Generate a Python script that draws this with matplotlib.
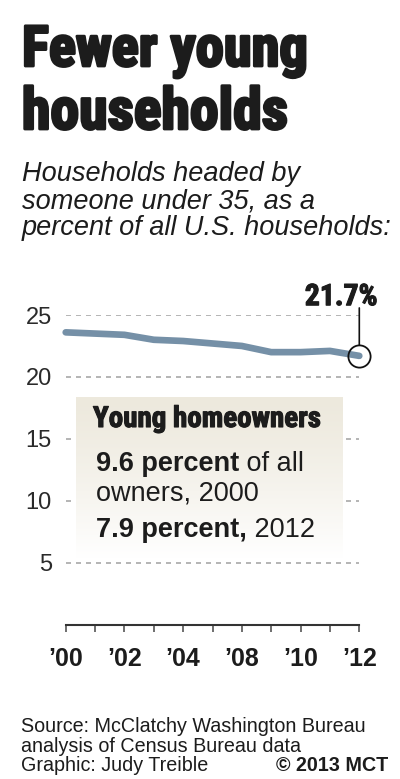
import numpy as np
import matplotlib
matplotlib.use("Agg")
import matplotlib.pyplot as plt
from matplotlib import font_manager
from matplotlib.font_manager import FontProperties
import matplotlib.patheffects as pe
from matplotlib.colors import to_rgb

# ---- data ----
positions = list(range(11))
share_pct = [23.6, 23.5, 23.4, 23.0, 22.9, 22.7, 22.5, 22.0, 22.0, 22.1, 21.7]
tick_labels = ["\u201900", "", "\u201902", "", "\u201904", "", "\u201908", "", "\u201910", "", "\u201912"]
y_ticks = [5, 10, 15, 20, 25]
last_label = "21.7%"

W, H = 400, 779
fig = plt.figure(figsize=(W / 100, H / 100), dpi=100)

names = {f.name for f in font_manager.fontManager.ttflist}
SANS = "Liberation Sans" if "Liberation Sans" in names else "DejaVu Sans"
INK = "#1c1c1c"


def pick_condensed():
    """Find a bold condensed/narrow font file; fall back to a bold sans."""
    best = None
    best_score = -1
    fam_pref = ["liberation sans narrow", "roboto condensed", "open sans condensed",
                "noto sans", "dejavu sans", "inter", "lato", "roboto", "open sans"]
    for f in font_manager.fontManager.ttflist:
        fname = f.fname.lower()
        nm = f.name.lower()
        condensed = (f.stretch in ("condensed", "semi-condensed", "extra-condensed",
                                   "ultra-condensed")
                     or "narrow" in fname or "condensed" in fname
                     or "narrow" in nm or "condensed" in nm)
        if not condensed:
            continue
        if "italic" in fname or "oblique" in fname or f.style != "normal":
            continue
        w = f.weight if isinstance(f.weight, int) else 400
        if w < 600 and "bold" not in fname and "black" not in fname:
            continue
        score = 100
        for i, fp in enumerate(fam_pref):
            if nm.startswith(fp):
                score += (len(fam_pref) - i) * 5
                break
        if "extracondensed" in fname or "extra-condensed" in fname:
            score -= 20
        if w >= 800 or "black" in fname or "extrabold" in fname:
            score += 3
        if score > best_score:
            best_score = score
            best = f.fname
    if best:
        return FontProperties(fname=best)
    return FontProperties(family=SANS, weight="bold")


COND = pick_condensed()


def fpc(size):
    p = COND.copy()
    p.set_size(size)
    return p


def fx(px):
    return px / W


def fy(py):
    return 1 - py / H


renderer = fig.canvas.get_renderer()


def fit_text(xpx, ypx, txt, target_w, max_size, stroke, ha="left"):
    t = fig.text(fx(xpx), fy(ypx), txt, fontproperties=fpc(max_size), color=INK,
                 va="baseline", ha=ha)
    w = t.get_window_extent(renderer=renderer).width
    size = min(max_size, max_size * target_w / w)
    t.set_fontproperties(fpc(size))
    if stroke:
        t.set_path_effects([pe.withStroke(linewidth=stroke, foreground=INK)])
    return t


# ---- main axes ----
x0, x1 = 65.7, 359.3
y0, y1 = 624.6, 315.0
ax = fig.add_axes([fx(x0), fy(y0), fx(x1) - fx(x0), fy(y1) - fy(y0)])
ax.set_xlim(0, 10)
ax.set_ylim(0, 25)
for s in ["top", "right", "left"]:
    ax.spines[s].set_visible(False)
ax.spines["bottom"].set_linewidth(1.5)
ax.spines["bottom"].set_color("#333333")
ax.set_yticks(y_ticks)
ax.set_yticklabels([str(v) for v in y_ticks], fontsize=17, family=SANS, color="#2a2a2a")
ax.tick_params(axis="y", length=0, pad=10)
ax.yaxis.grid(True, linestyle=(0, (3, 3)), color="#a8a8a8", linewidth=1.2)
ax.set_axisbelow(True)
ax.set_xticks(positions)
ax.set_xticklabels(tick_labels, fontsize=18, family=SANS, fontweight="bold", color=INK)
ax.tick_params(axis="x", direction="out", length=5, width=1.2, color="#555555", pad=11)

ax.plot(positions, share_pct, color="#7590a7", lw=4.8, solid_capstyle="round",
        solid_joinstyle="round", clip_on=False, zorder=3)
ax.plot(positions[-1], share_pct[-1], "o", ms=16, mfc="none", mec="#111111", mew=1.3,
        clip_on=False, zorder=4)
ax.annotate("", xy=(positions[-1], share_pct[-1]), xytext=(0, 34.5),
            textcoords="offset points",
            arrowprops=dict(arrowstyle="-", color="#111111", lw=1.2, shrinkA=0, shrinkB=8))

# value label: fit to the reference width, centred above the marker
lab = ax.annotate(last_label, xy=(positions[-1], share_pct[-1]), xytext=(-13, 36.5),
                  textcoords="offset points", ha="center", va="baseline",
                  fontproperties=fpc(24), color=INK)
lw_ = lab.get_window_extent(renderer=renderer).width
lab.set_fontproperties(fpc(min(24, 24 * 73 / lw_)))
lab.set_path_effects([pe.withStroke(linewidth=0.8, foreground=INK)])

# ---- gradient box ----
bl, br, bt, bb = 76, 343, 396.7, 558
bax = fig.add_axes([fx(bl), fy(bb), fx(br) - fx(bl), fy(bt) - fy(bb)])
top_c = np.array(to_rgb("#ede9dd"))
bot_c = np.array([1.0, 1.0, 1.0])
t = np.linspace(0, 1, 200)[:, None] ** 1.3
grad = top_c[None, :] * (1 - t) + bot_c[None, :] * t
bax.imshow(grad[:, None, :], aspect="auto", extent=[0, 1, 0, 1], origin="upper")
bax.set_axis_off()

# ---- texts ----
fit_text(22, 66, "Fewer young", 286, 60, 2.0)
fit_text(22, 129, "households", 266, 60, 2.0)

for txt, by in [("Households headed by", 181),
                ("someone under 35, as a", 208),
                ("percent of all U.S. households:", 235)]:
    fig.text(fx(22), fy(by), txt, fontsize=19.5, family=SANS, style="italic",
             color=INK, va="baseline")

fit_text(93, 427, "Young homeowners", 228, 28, 0.8)


def mixed(xpx, ypx, bold, regular, size=19.5):
    tb = fig.text(fx(xpx), fy(ypx), bold, fontsize=size, family=SANS, fontweight="bold",
                  color=INK, va="baseline")
    w = tb.get_window_extent(renderer=renderer).width
    if regular:
        fig.text(fx(xpx + w), fy(ypx), regular, fontsize=size, family=SANS,
                 color=INK, va="baseline")


mixed(96, 471, "9.6 percent", " of all")
fig.text(fx(96), fy(500), "owners, 2000", fontsize=19.5, family=SANS, color=INK, va="baseline")
mixed(96, 537, "7.9 percent,", " 2012")

for txt, by in [("Source: McClatchy Washington Bureau", 732),
                ("analysis of Census Bureau data", 752),
                ("Graphic: Judy Treible", 771)]:
    fig.text(fx(21), fy(by), txt, fontsize=14.2, family=SANS, color=INK, va="baseline")
fig.text(fx(388), fy(771), "\u00a9 2013 MCT", fontsize=14.2, family=SANS, fontweight="bold",
         color=INK, va="baseline", ha="right")

fig.savefig("out.png", dpi=100)
